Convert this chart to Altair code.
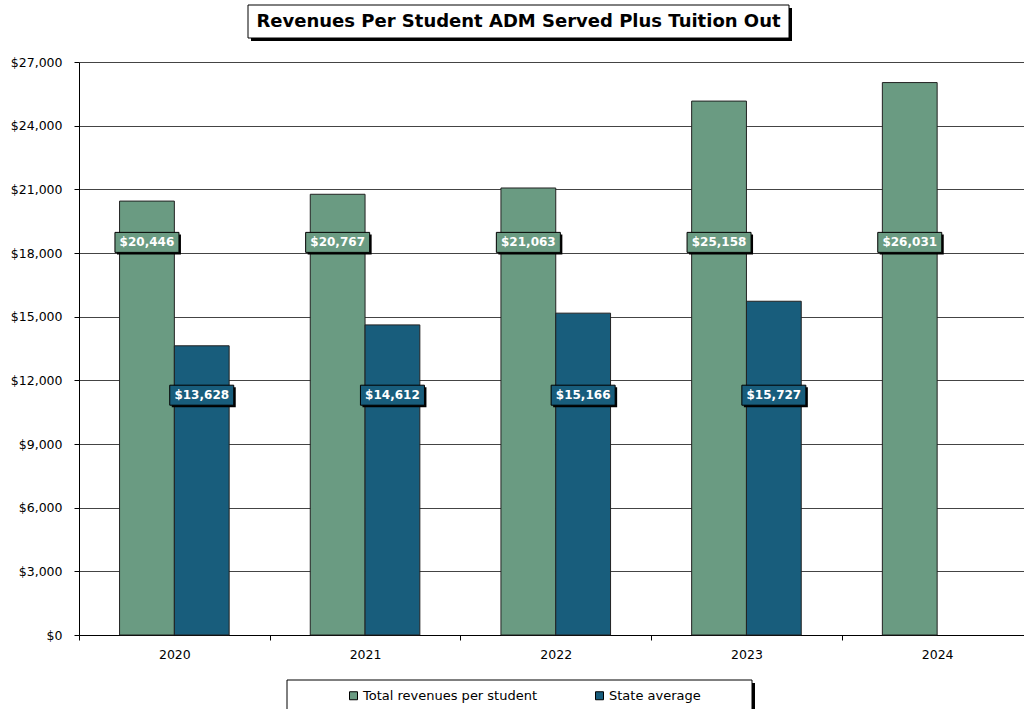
import altair as alt
import pandas as pd

years = ["2020", "2021", "2022", "2023", "2024"]
total_rev = [20446, 20767, 21063, 25158, 26031]
state_avg = [13628, 14612, 15166, 15727, None]
series_names = ["Total revenues per student", "State average"]
series_colors = ["#6A9B82", "#185D7C"]
label_pos = {"Total revenues per student": 18500, "State average": 11300}

rows = []
for y, t, s in zip(years, total_rev, state_avg):
    rows.append({"year": y, "series": series_names[0], "value": t, "ly": label_pos[series_names[0]]})
    if s is not None:
        rows.append({"year": y, "series": series_names[1], "value": s, "ly": label_pos[series_names[1]]})
df = pd.DataFrame(rows)

FONT = "DejaVu Sans"
W, H = 945, 573
XRANGE = 953.5

xscale = alt.Scale(paddingInner=0, paddingOuter=0, range=[0, XRANGE])
xenc = alt.X("year:N", title=None, sort=years, scale=xscale,
             axis=alt.Axis(labelAngle=0, tickBand="extent", labelFontSize=12.5, labelFont=FONT,
                           labelColor="black", domainColor="black", tickColor="black",
                           tickSize=5, labelPadding=8, grid=False))
xoff = alt.XOffset("series:N", sort=series_names,
                   scale=alt.Scale(domain=series_names, paddingInner=0, paddingOuter=0.74))
yenc = alt.Y("value:Q", title=None,
             scale=alt.Scale(domain=[0, 27000], nice=False),
             axis=alt.Axis(values=list(range(0, 27001, 3000)), format="$,d", labelFontSize=12.5,
                           labelFont=FONT, labelColor="black", domainColor="black",
                           tickColor="black", tickSize=5, labelPadding=12,
                           grid=True, gridColor="#444", gridWidth=1))

base = alt.Chart(df)

bars = base.mark_bar(stroke="#222", strokeWidth=1).encode(
    x=xenc, xOffset=xoff, y=yenc,
    color=alt.Color("series:N", sort=series_names,
                    scale=alt.Scale(domain=series_names, range=series_colors),
                    legend=alt.Legend(title=None, orient="none", legendX=268, legendY=627,
                                      direction="horizontal", columns=2, symbolType="square",
                                      symbolSize=64, symbolStrokeColor="black", symbolStrokeWidth=1,
                                      labelFont=FONT, labelFontSize=13, labelColor="black",
                                      labelLimit=400, columnPadding=55, padding=0, labelOffset=3)),
)

box = "M-1,-0.3125L1,-0.3125L1,0.3125L-1,0.3125Z"
shadow = "M-0.9375,-0.25L1.0625,-0.25L1.0625,0.375L-0.9375,0.375Z"

xl = alt.X("year:N", sort=years, scale=xscale)
lab_shadow = base.mark_point(shape=shadow, filled=True, fill="black", size=4096, opacity=1).encode(
    x=xl, xOffset=xoff, y=alt.Y("ly:Q"))
lab_box = base.mark_point(shape=box, filled=True, size=4096, opacity=1, stroke="black", strokeWidth=1).encode(
    x=xl, xOffset=xoff, y=alt.Y("ly:Q"),
    fill=alt.Fill("series:N", scale=alt.Scale(domain=series_names, range=series_colors), legend=None))
lab_text = base.mark_text(font=FONT, fontSize=12, fontWeight="bold", color="white", baseline="middle").encode(
    x=xl, xOffset=xoff, y=alt.Y("ly:Q"),
    text=alt.Text("value:Q", format="$,.0f"))

one = alt.Data(values=[{"a": 1}])
title_shadow = alt.Chart(one).mark_rect(fill="black").encode(
    x=alt.value(172), x2=alt.value(713), y=alt.value(-54), y2=alt.value(-21))
title_box = alt.Chart(one).mark_rect(fill="white", stroke="black", strokeWidth=1).encode(
    x=alt.value(169), x2=alt.value(710), y=alt.value(-57), y2=alt.value(-24))
title_text = alt.Chart(one).mark_text(font=FONT, fontSize=18, fontWeight="bold", color="black",
                                      baseline="middle", align="center").encode(
    x=alt.value(439.5), y=alt.value(-40), text=alt.value("Revenues Per Student ADM Served Plus Tuition Out"))

leg_shadow = alt.Chart(one).mark_rect(fill="black").encode(
    x=alt.value(211), x2=alt.value(676), y=alt.value(621), y2=alt.value(680))
leg_box = alt.Chart(one).mark_rect(fill="white", stroke="black", strokeWidth=1).encode(
    x=alt.value(208), x2=alt.value(673), y=alt.value(618), y2=alt.value(680))

chart = alt.layer(
    leg_shadow, leg_box, bars, lab_shadow, lab_box, lab_text, title_shadow, title_box, title_text
).properties(
    width=W, height=H,
    autosize=alt.AutoSizeParams(type="none"),
    padding={"left": 79, "top": 62, "right": 0, "bottom": 74},
    background="white",
).configure_view(stroke=None)

chart.save("out.html", embed_options={"renderer": "svg", "actions": False})
